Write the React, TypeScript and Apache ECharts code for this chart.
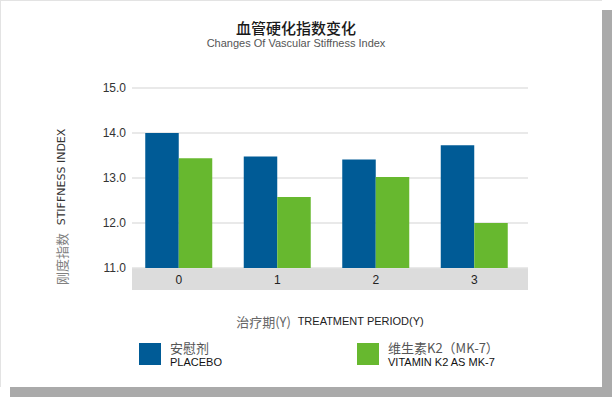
import React, { useEffect, useRef } from "react";
import * as echarts from "echarts";

const categories = ["0", "1", "2", "3"];
const placeboValues = [14.0, 13.48, 13.41, 13.73];
const vitaminValues = [13.44, 12.58, 13.02, 12.0];
const yTicks = { min: 11, max: 15, interval: 1 };
const seriesNames = ["安慰剂", "维生素K2（MK-7）"];
const seriesSubNames = ["PLACEBO", "VITAMIN K2 AS MK-7"];

const FONT = "'Liberation Sans', Arial, 'Noto Sans CJK SC', sans-serif";
const CJK = "'Noto Sans CJK SC', 'Liberation Sans', sans-serif";

export default function App() {
  const ref = useRef<HTMLDivElement>(null);
  useEffect(() => {
    if (!ref.current) return;
    const chart = echarts.init(ref.current, undefined, { renderer: "svg" });
    const legendFormatter = (name: string) => {
      const i = seriesNames.indexOf(name);
      return `{a|${name}}\n{b|${seriesSubNames[i]}}`;
    };
    const legendRich = {
      a: { fontFamily: CJK, fontSize: 13, color: "#555", lineHeight: 15 },
      b: { fontFamily: FONT, fontSize: 11, color: "#111", lineHeight: 13 },
    };
    chart.setOption({
      animation: false,
      textStyle: { fontFamily: FONT },
      grid: [
        { left: 132, width: 396, top: 88, height: 180 },
        { left: 129.5, width: 394, top: 88, height: 180 },
      ],
      xAxis: [
        { type: "category", gridIndex: 0, data: categories, show: false },
        {
          type: "category",
          gridIndex: 1,
          data: categories,
          axisLine: { show: false },
          axisTick: { show: false },
          axisLabel: { color: "#222", fontSize: 12, margin: 6, fontFamily: FONT },
          z: 10,
        },
      ],
      yAxis: [
        {
          type: "value",
          gridIndex: 0,
          min: yTicks.min,
          max: yTicks.max,
          interval: yTicks.interval,
          axisLine: { show: false },
          axisTick: { show: false },
          axisLabel: {
            color: "#333",
            fontSize: 12,
            margin: 6,
            fontFamily: FONT,
            formatter: (v: number) => v.toFixed(1),
          },
          splitLine: { lineStyle: { color: "#e2e2e2", width: 1.5 } },
        },
        {
          type: "value",
          gridIndex: 1,
          min: yTicks.min,
          max: yTicks.max,
          interval: yTicks.interval,
          show: false,
          splitLine: { show: false },
        },
      ],
      legend: [
        {
          data: [seriesNames[0]],
          left: 139,
          top: 341,
          padding: 0,
          icon: "rect",
          itemWidth: 22,
          itemHeight: 22,
          itemGap: 0,
          formatter: legendFormatter,
          textStyle: { rich: legendRich, padding: [0, 0, 0, 4] },
        },
        {
          data: [seriesNames[1]],
          left: 357,
          top: 341,
          padding: 0,
          icon: "rect",
          itemWidth: 22,
          itemHeight: 22,
          itemGap: 0,
          formatter: legendFormatter,
          textStyle: { rich: legendRich, padding: [0, 0, 0, 4] },
        },
      ],
      graphic: [
        {
          type: "rect",
          shape: { x: 132, y: 268, width: 396, height: 22 },
          style: { fill: "#dcdcdc" },
          z: 0,
          silent: true,
        },
        {
          type: "text",
          x: 296,
          y: 27,
          style: {
            text: "血管硬化指数变化",
            fontFamily: CJK,
            fontSize: 15,
            fontWeight: 500,
            fill: "#1a1a1a",
            textAlign: "center",
            textVerticalAlign: "middle",
          },
        },
        {
          type: "text",
          x: 296,
          y: 43,
          style: {
            text: "Changes Of Vascular Stiffness Index",
            fontFamily: FONT,
            fontSize: 11,
            fill: "#555",
            textAlign: "center",
            textVerticalAlign: "middle",
          },
        },
        {
          type: "text",
          x: 61,
          y: 177,
          rotation: Math.PI / 2,
          style: {
            text: "STIFFNESS INDEX",
            fontFamily: "'DejaVu Sans', sans-serif",
            fontSize: 11,
            fill: "#333",
            textAlign: "center",
            textVerticalAlign: "middle",
          },
        },
        {
          type: "text",
          x: 61,
          y: 259,
          rotation: Math.PI / 2,
          style: {
            text: "刚度指数",
            fontFamily: CJK,
            fontSize: 13,
            fill: "#808080",
            textAlign: "center",
            textVerticalAlign: "middle",
          },
        },
        {
          type: "text",
          x: 330,
          y: 321,
          style: {
            text: "{a|治疗期(Y)}  {b|TREATMENT PERIOD(Y)}",
            textAlign: "center",
            textVerticalAlign: "middle",
            rich: {
              a: { fontFamily: CJK, fontSize: 13, fill: "#666" },
              b: { fontFamily: FONT, fontSize: 11, fill: "#222" },
            },
          },
        },
      ],
      series: [
        {
          name: seriesNames[0],
          type: "bar",
          xAxisIndex: 1,
          yAxisIndex: 1,
          data: placeboValues,
          barWidth: 33.5,
          barGap: "0%",
          itemStyle: { color: "#005b96" },
        },
        {
          name: seriesNames[1],
          type: "bar",
          xAxisIndex: 1,
          yAxisIndex: 1,
          data: vitaminValues,
          barWidth: 33.5,
          barGap: "0%",
          itemStyle: { color: "#67b82f" },
        },
      ],
    });
    return () => chart.dispose();
  }, []);

  return (
    <div style={{ position: "fixed", left: 0, top: 0, width: 612, height: 397, background: "#fff" }}>
      <div style={{ position: "absolute", left: 10, top: 10, width: 602, height: 387, background: "#aaaaaa" }} />
      <div
        style={{
          position: "absolute",
          left: 0,
          top: 0,
          width: 602,
          height: 387,
          background: "#fff",
          boxSizing: "border-box",
          borderTop: "1px solid #e3e3e3",
          borderLeft: "1px solid #e3e3e3",
        }}
      />
      <div ref={ref} style={{ position: "absolute", left: 0, top: 0, width: 612, height: 397 }} />
    </div>
  );
}
